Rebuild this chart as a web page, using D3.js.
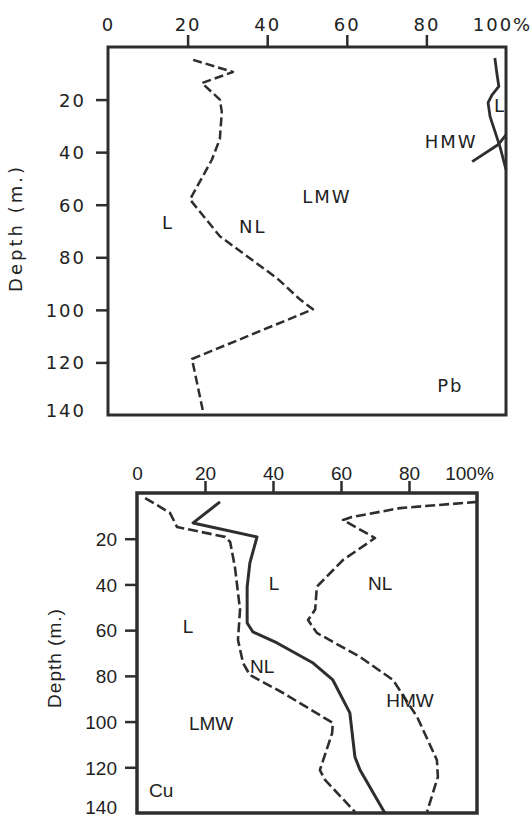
<!DOCTYPE html>
<html>
<head>
<meta charset="utf-8">
<script src="https://d3js.org/d3.v7.min.js"></script>
<style>
	body { margin: 0; background: #fff; }
	svg { display: block; }
</style>
</head>
<body>
<div id="chart"></div>
<script>
// shared tick values (percent along the top, depth in m. on the left)
var pctTicks = [0, 20, 40, 60, 80, 100];
var depthTicks = [20, 40, 60, 80, 100, 120, 140];

// --- Pb panel ---
// L / NL boundary inside the LMW fraction (dashed)
var pbLmwSplitPct   = [21.4, 31.4, 23.6, 28.1, 28.6, 28.1, 26.1, 20.6, 28.1, 42.5, 48.2, 51.5, 21.1, 23.9];
var pbLmwSplitDepth = [4.9, 9.5, 13.7, 20, 24.7, 35, 42.9, 58, 72, 88, 96, 99.8, 118.7, 138.8];
// L / NL boundary inside the HMW fraction (solid)
var pbHmwSplitPct   = [97.2, 97.7, 98.2, 96.5, 95.5, 96, 98.5, 100];
var pbHmwSplitDepth = [4.2, 10, 15, 18.2, 21.2, 26.5, 38, 46.7];
// LMW / HMW boundary (solid)
var pbFractionPct   = [91.5, 98, 100];
var pbFractionDepth = [43.6, 37.2, 33.4];
var pbLabels = ["L", "HMW", "LMW", "L", "NL", "Pb"];
var pbLabelPct = [98.5, 86.2, 55, 15.1, 36.4, 86];
var pbLabelDepth = [24.7, 38.3, 59.2, 69.4, 70.6, 131.3];

// --- Cu panel ---
var cuLmwSplitPct   = [2.4, 9.7, 11.8, 25.9, 27.4, 28.8, 30.3, 29.7, 31.2, 33.2, 43, 57.6, 57.4, 53.8, 55.3, 64.1];
var cuLmwSplitDepth = [2.2, 8.7, 14.9, 19.2, 21.4, 32.4, 51, 64.3, 74.4, 79.6, 87.5, 100.6, 105, 121.2, 125.5, 139.5];
var cuFractionPct   = [24.4, 16.5, 35.3, 33.2, 32.4, 32.4, 34.1, 41.2, 51.8, 57.6, 62.6, 64.1, 65.6, 72.9];
var cuFractionDepth = [3.9, 13.1, 19.2, 30.6, 41, 56.9, 60.8, 65.6, 74.4, 81.8, 96.2, 115.5, 121.2, 140];
var cuHmwSplitPct   = [100, 77.4, 63.2, 60.6, 70, 60.6, 52.9, 52.4, 50.3, 52.9, 65.6, 75.3, 82.4, 88.2, 88.5, 85.3];
var cuHmwSplitDepth = [3.9, 6.6, 10.5, 11.8, 19.7, 29.3, 41, 51, 55.6, 61.2, 71.7, 81.8, 98, 116.8, 124.2, 139.5];
var cuLabels = ["L", "NL", "L", "NL", "HMW", "LMW", "Cu"];
var cuLabelPct = [40.3, 71.5, 15, 36.8, 80.3, 21.8, 7.1];
var cuLabelDepth = [42.4, 42.4, 61.2, 78.7, 93.6, 103.7, 133];

var ink = "#2e2e2e";

function zipSeries(pct, depth)
{
	return pct.map(function(p, i) { return {pct: p, depth: depth[i]}; });
}

/**
 * Draws one depth profile panel.
 *
 * @param svg     root svg selection
 * @param opts    layout / font options of the panel
 * @param series  list of {pts, dashed}
 * @param labels  list of {text, pct, depth}
 */
function drawPanel(svg, opts, series, labels)
{
	var x = d3.scaleLinear().domain([0, 100]).range([opts.left, opts.right]);
	var y = d3.scaleLinear().domain([0, 140]).range([opts.top, opts.bottom]);

	var g = svg.append("g");

	// top axis (percent)
	var xAxis = g.append("g")
		.attr("transform", "translate(0," + opts.top + ")")
		.call(d3.axisTop(x)
			.tickValues(pctTicks)
			.tickSize(opts.tickLen)
			.tickPadding(opts.xPad)
			.tickFormat(function(d) { return d === 100 ? "100%" : d; }));

	// left axis (depth)
	var yAxis = g.append("g")
		.attr("transform", "translate(" + opts.left + ",0)")
		.call(d3.axisLeft(y)
			.tickValues(depthTicks)
			.tickSize(opts.tickLen)
			.tickPadding(opts.yPad));

	[xAxis, yAxis].forEach(function(ax) {
		ax.select(".domain").remove();
		ax.selectAll(".tick line")
			.attr("stroke", ink)
			.attr("stroke-width", 2.5);
		ax.selectAll(".tick text")
			.attr("fill", "#222")
			.style("font-family", opts.font)
			.style("font-size", opts.fontSize + "px")
			.style("letter-spacing", opts.spacing + "px");
	});

	// corner ticks are hidden by the frame in the original
	xAxis.selectAll(".tick").filter(function(d) { return d === 0 || d === 100; })
		.select("line").remove();
	yAxis.selectAll(".tick").filter(function(d) { return d === 140; })
		.select("line").remove();
	xAxis.selectAll(".tick").filter(function(d) { return d === 100; })
		.select("text").attr("dx", opts.pctShift);
	yAxis.selectAll(".tick text").attr("dy", "0.36em");
	// the last depth label sits a little above the frame corner
	yAxis.selectAll(".tick").filter(function(d) { return d === 140; })
		.select("text").attr("dy", opts.lastDy);

	// y axis title
	g.append("text")
		.attr("transform", "translate(" + opts.titleX + "," + opts.titleY + ") rotate(-90)")
		.attr("text-anchor", "middle")
		.attr("fill", "#222")
		.style("font-family", opts.font)
		.style("font-size", opts.fontSize + "px")
		.style("letter-spacing", opts.titleSpacing + "px")
		.text("Depth (m.)");

	var line = d3.line()
		.x(function(d) { return x(d.pct); })
		.y(function(d) { return y(d.depth); });

	series.forEach(function(s) {
		g.append("path")
			.datum(s.pts)
			.attr("d", line)
			.attr("fill", "none")
			.attr("stroke", ink)
			.attr("stroke-width", s.dashed ? opts.dashWidth : opts.solidWidth)
			.attr("stroke-linejoin", "round")
			.attr("stroke-dasharray", s.dashed ? opts.dash : null);
	});

	g.selectAll("text.region")
		.data(labels)
		.enter().append("text")
		.attr("class", "region")
		.attr("x", function(d) { return x(d.pct); })
		.attr("y", function(d) { return y(d.depth); })
		.attr("text-anchor", "middle")
		.attr("fill", "#222")
		.style("font-family", opts.font)
		.style("font-size", opts.fontSize + "px")
		.style("letter-spacing", opts.spacing + "px")
		.text(function(d) { return d.text; });

	// frame
	g.append("rect")
		.attr("x", opts.left)
		.attr("y", opts.top)
		.attr("width", opts.right - opts.left)
		.attr("height", opts.bottom - opts.top)
		.attr("fill", "none")
		.attr("stroke", ink)
		.attr("stroke-width", opts.frameWidth);
}

function makeLabels(texts, pct, depth)
{
	return texts.map(function(t, i) { return {text: t, pct: pct[i], depth: depth[i]}; });
}

function init()
{
	var svg = d3.select("#chart").append("svg")
		.attr("width", 531)
		.attr("height", 816);

	drawPanel(svg, {
		left: 108, right: 506, top: 47, bottom: 415,
		tickLen: 12, xPad: 4, yPad: 10, pctShift: -4, lastDy: "0.1em",
		font: "'DejaVu Sans', sans-serif", fontSize: 18, spacing: 2,
		titleX: 22, titleY: 228, titleSpacing: 3,
		dash: "9,4", dashWidth: 2.5, solidWidth: 2.8, frameWidth: 3
	}, [
		{pts: zipSeries(pbLmwSplitPct, pbLmwSplitDepth), dashed: true},
		{pts: zipSeries(pbHmwSplitPct, pbHmwSplitDepth), dashed: false},
		{pts: zipSeries(pbFractionPct, pbFractionDepth), dashed: false}
	], makeLabels(pbLabels, pbLabelPct, pbLabelDepth));

	drawPanel(svg, {
		left: 137, right: 477, top: 493, bottom: 813,
		tickLen: 12, xPad: 1, yPad: 8, pctShift: -8, lastDy: "0em",
		font: "'Liberation Sans', Arial, sans-serif", fontSize: 19, spacing: 0,
		titleX: 61, titleY: 658, titleSpacing: 1,
		dash: "10,4", dashWidth: 2.6, solidWidth: 3, frameWidth: 3.5
	}, [
		{pts: zipSeries(cuLmwSplitPct, cuLmwSplitDepth), dashed: true},
		{pts: zipSeries(cuFractionPct, cuFractionDepth), dashed: false},
		{pts: zipSeries(cuHmwSplitPct, cuHmwSplitDepth), dashed: true}
	], makeLabels(cuLabels, cuLabelPct, cuLabelDepth));
}

init();
</script>
</body>
</html>
